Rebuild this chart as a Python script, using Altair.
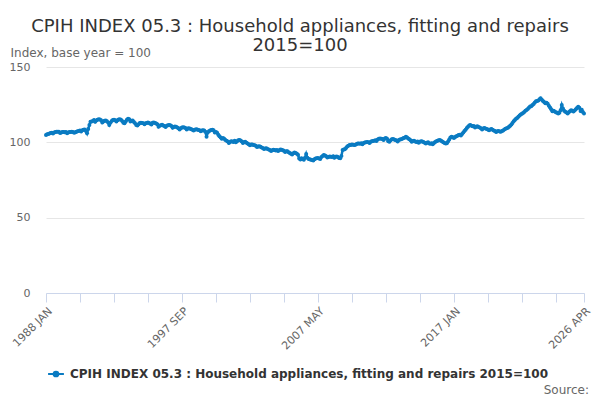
import pandas as pd
import altair as alt

# CPIH INDEX 05.3 monthly values (2015=100)
VALUES_1988_1997 = [
    104.8, 105.3, 105.6, 105.9, 106.2, 106.4, 105.9, 106.6, 106.9, 107.0, 107.1, 107.0,
    106.2, 106.6, 106.9, 106.8, 106.7, 106.9, 106.1, 106.5, 106.8, 106.9, 107.0, 106.8,
    106.3, 106.7, 107.1, 107.3, 107.6, 107.9, 107.2, 108.0, 108.4, 108.6, 107.5, 106.0,
    108.8, 111.5, 113.7, 113.9, 114.2, 114.8, 113.6, 114.5, 115.0, 115.3, 115.1, 114.6,
    113.2, 113.9, 114.3, 114.5, 114.0, 113.2, 111.5, 113.0, 114.2, 114.8, 115.0, 114.7,
    113.8, 114.6, 115.2, 115.3, 115.0, 114.2, 113.0, 112.6, 113.9, 115.0, 115.6, 115.4,
    113.8, 114.3, 114.5, 113.5, 112.6, 111.5, 111.2, 112.0, 112.8, 113.0, 112.8, 112.6,
    112.0, 112.6, 112.9, 113.1, 112.8, 112.4, 111.8, 113.0, 113.2, 112.9, 112.5, 112.0,
    110.3, 111.0, 111.4, 111.6, 111.2, 110.8, 110.2, 111.0, 111.4, 111.5, 111.3, 110.8,
    109.6, 110.2, 110.5, 110.3, 109.9, 109.3, 108.6, 109.4, 109.8, 110.0, 109.8, 109.5,
]
VALUES_1998_2007 = [
    108.6, 109.1, 109.3, 109.0, 108.7, 108.3, 107.8, 108.4, 108.7, 108.5, 108.2, 108.0,
    107.3, 107.9, 108.1, 107.8, 107.0, 103.7, 106.5, 107.4, 107.9, 108.2, 108.3, 108.0,
    106.5, 106.9, 106.3, 105.0, 104.1, 103.2, 102.4, 102.8, 102.3, 101.6, 101.0, 100.6,
    99.5, 100.3, 100.8, 100.5, 100.2, 101.0, 100.0, 100.8, 101.4, 101.5, 101.2, 100.6,
    99.6, 100.2, 100.4, 99.8, 99.3, 98.8, 98.0, 98.5, 98.6, 98.3, 98.0, 97.7,
    96.9, 97.3, 97.4, 97.0, 96.5, 96.2, 95.6, 95.9, 96.0, 95.6, 95.2, 94.9,
    94.3, 94.8, 95.0, 94.9, 94.6, 94.9, 94.2, 94.8, 95.2, 95.1, 94.7, 94.4,
    93.6, 94.0, 94.1, 93.5, 92.9, 92.5, 92.0, 92.8, 93.2, 93.0, 92.5, 91.8,
    89.2, 88.6, 89.4, 89.0, 88.5, 89.8, 92.3, 89.7, 89.0, 88.7, 88.4, 88.2,
    88.0, 88.7, 89.2, 89.4, 89.6, 89.3, 89.0, 90.2, 90.9, 91.6, 91.3, 90.8,
]
VALUES_2008_2017 = [
    89.9, 90.3, 90.6, 90.5, 90.2, 90.8, 89.8, 90.4, 90.6, 90.3, 89.6, 89.4,
    91.0, 94.9, 95.2, 95.4, 96.3, 97.2, 97.8, 98.2, 98.3, 98.5, 98.4, 98.2,
    98.4, 98.9, 99.2, 99.3, 99.1, 99.4, 98.8, 99.5, 99.9, 100.1, 100.2, 100.0,
    99.6, 100.4, 100.7, 100.9, 101.0, 101.4, 100.9, 101.8, 102.4, 102.6, 102.3, 102.2,
    101.6, 102.6, 102.8, 102.4, 100.8, 100.4, 101.4, 102.1, 102.2, 101.8, 101.5, 101.2,
    100.6, 101.5, 101.8, 102.0, 102.4, 102.8, 103.0, 103.7, 103.2, 102.6, 102.0, 101.3,
    100.4, 100.9, 101.0, 100.6, 100.2, 100.5, 99.8, 100.4, 100.8, 100.6, 100.2, 99.8,
    99.2, 99.8, 100.1, 99.3, 99.0, 99.4, 98.8, 99.6, 100.3, 100.7, 101.0, 101.3,
    101.5, 101.0, 100.5, 100.0, 99.6, 99.3, 99.4, 100.6, 101.8, 103.2, 103.7, 103.4,
    102.9, 103.6, 104.0, 104.3, 104.8, 105.0, 104.6, 105.5, 106.6, 107.5, 108.4, 109.5,
]
VALUES_2018_2026 = [
    110.4, 111.2, 111.5, 111.0, 110.6, 110.8, 109.9, 110.4, 110.6, 110.2, 109.8, 109.4,
    108.6, 109.2, 109.5, 109.2, 108.9, 108.6, 108.0, 108.6, 108.8, 108.3, 107.9, 107.6,
    106.8, 107.3, 107.5, 107.2, 107.0, 107.6, 107.9, 108.6, 109.0, 109.3, 109.6, 110.4,
    111.0, 111.8, 112.9, 114.0, 114.8, 115.6, 116.1, 117.0, 117.8, 118.5, 119.0, 119.4,
    120.2, 121.0, 121.4, 122.2, 123.0, 123.8, 124.0, 124.7, 125.4, 126.4, 127.2, 127.5,
    127.8, 128.6, 129.2, 128.3, 127.4, 126.8, 125.9, 126.3, 125.6, 124.3, 123.2, 122.0,
    120.6, 121.0, 120.5, 120.0, 119.6, 119.2, 119.6, 121.3, 124.7, 122.4, 121.0, 120.3,
    119.8, 119.2, 120.0, 120.6, 121.3, 121.0, 120.4, 121.2, 122.0, 122.8, 123.6, 123.0,
    120.8, 121.6, 120.2, 119.2,
]

SERIES = "CPIH INDEX 05.3 : Household appliances, fitting and repairs 2015=100"
TITLE = ["CPIH INDEX 05.3 : Household appliances, fitting and repairs", "2015=100"]
TICK_LABELS = ["1988 JAN", "1997 SEP", "2007 MAY", "2017 JAN", "2026 APR"]
Y_TICKS = [0, 50, 100, 150]
BLUE = "#0a7bc2"
FONT = "DejaVu Sans"

values = VALUES_1988_1997 + VALUES_1998_2007 + VALUES_2008_2017 + VALUES_2018_2026
months = pd.date_range("1988-01-01", periods=len(values), freq="MS")
df = pd.DataFrame({
    "date": months.strftime("%Y/%m/%d"),
    "value": values,
    "series": SERIES,
})

# ticks every 29 months, plus the last month
tick_idx = list(range(0, len(values), 29)) + [len(values) - 1]
tick_values = [alt.DateTime(year=months[i].year, month=months[i].month, date=1) for i in tick_idx]
first = alt.DateTime(year=1988, month=1, date=1)
last = alt.DateTime(year=months[-1].year, month=months[-1].month, date=1)

label_list = "[" + ",".join(f"'{t}'" for t in TICK_LABELS) + "]"
lab = "upper(timeFormat(datum.value, '%Y %b'))"
label_expr = f"indexof({label_list}, {lab}) >= 0 ? {lab} : ''"

line = alt.Chart(df).mark_line(
    strokeWidth=2.5,
    point=alt.OverlayMarkDef(filled=True, size=16, color=BLUE),
).encode(
    x=alt.X("date:T", title=None,
            scale=alt.Scale(domain=[first, last], nice=False, padding=0),
            axis=alt.Axis(values=tick_values, labelExpr=label_expr, labelAngle=315,
                          labelAlign="right", labelBaseline="top", labelOverlap=False,
                          labelBound=False, labelFlush=False, grid=False,
                          domainColor="#ccd6eb", tickColor="#ccd6eb", tickSize=9,
                          labelColor="#666666", labelFontSize=11, labelFont=FONT,
                          labelPadding=3)),
    y=alt.Y("value:Q", title="Index, base year = 100",
            scale=alt.Scale(domain=[0, 150], nice=False),
            axis=alt.Axis(values=Y_TICKS, domain=False, ticks=False, gridColor="#e6e6e6",
                          labelColor="#666666", labelFontSize=11, labelFont=FONT,
                          labelPadding=16, titleAngle=0, titleAlign="left",
                          titleBaseline="middle", titleX=-36, titleY=-15,
                          titleColor="#666666", titleFontSize=12, titleFont=FONT,
                          titleFontWeight="normal")),
    color=alt.Color("series:N",
                    scale=alt.Scale(domain=[SERIES], range=[BLUE]),
                    legend=alt.Legend(title=None, orient="none", legendX=1, legendY=298,
                                      symbolType="M-1,0L1,0M-0.3,0A0.3,0.3,0,1,1,0.3,0A0.3,0.3,0,1,1,-0.3,0Z",
                                      symbolSize=250, symbolStrokeWidth=2,
                                      symbolFillColor=BLUE, symbolStrokeColor=BLUE,
                                      labelFont=FONT, labelFontSize=12, labelFontWeight="bold",
                                      labelColor="#333333", labelOffset=5, labelLimit=600)),
)

source = alt.Chart(pd.DataFrame({"t": ["Source:"]})).mark_text(
    align="right", baseline="middle", font=FONT, fontSize=12, color="#666666",
).encode(x=alt.value(543), y=alt.value(323), text="t:N")

chart = alt.layer(line, source).properties(
    width=538,
    height=226,
    title=alt.Title(TITLE, font=FONT, fontSize=18, fontWeight="normal", color="#333333",
                    anchor="middle", frame="group", dx=-15, dy=9, offset=0, lineHeight=19),
    padding={"left": 38, "top": 59, "right": 8, "bottom": 115},
    autosize="none",
).configure_view(stroke=None)

chart.save("out.html", embed_options={"renderer": "svg", "actions": False})
